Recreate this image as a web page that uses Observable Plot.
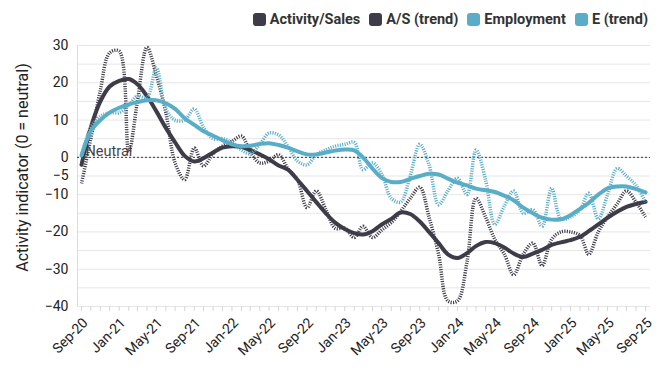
<!DOCTYPE html>
<html><head><meta charset="utf-8">
<script src="https://cdn.jsdelivr.net/npm/d3@7"></script>
<script src="https://cdn.jsdelivr.net/npm/@observablehq/plot@0.6"></script>
<style>
body{margin:0;background:#fff;font-family:Roboto,sans-serif;}
#legend{height:30px;box-sizing:border-box;padding-top:9px;padding-right:18px;display:flex;justify-content:flex-end;align-items:center;font-weight:700;font-size:14.5px;color:#333;}
.item{display:flex;align-items:center;margin-left:9px;}
.sw{width:13px;height:13px;border-radius:3px;margin-right:4px;}
</style></head><body>
<div id="legend"></div>
<div id="chart"></div>
<script>
// First month of the series: Sep 2020, monthly to Sep 2025
const startYear = 2020, startMonthIndex = 8;

const activity = [-7, 5, 18, 28, 28.5, 1.5, 15, 29.5, 22, 12,
  -1.5, -6, 2.5, -2.3, 1, 3, 4.3, 5.7, 1.5, -1.5,
  -1, 0.7, -3, -6, -13.5, -9, -14, -19, -19, -21.5,
  -18.5, -21.5, -19.5, -17.5, -14.5, -11, -8, -16, -26, -38.5,
  -38.5, -28, -11, -16, -22, -26, -31.5, -26, -23, -29,
  -22, -20, -20, -21, -26, -20, -16, -12.5, -9, -12, -16];

const activityTrend = [-2, 8, 15, 19, 20.5, 21, 19.6, 16.4, 12.4, 7.9,
  4, 0.4, -1.1, -0.2, 1.3, 2.6, 3, 2.8, 2, 0.8,
  -0.5, -2.2, -3.3, -6, -9, -12, -15, -17.5, -19.2, -20.3,
  -20.7, -19.8, -18, -16.5, -14.8, -15.2, -17.2, -20, -23, -26,
  -27, -25.7, -23.8, -22.7, -23, -24.2, -25.8, -26.7, -25.8, -24.8,
  -23.5, -22.8, -22.2, -21.3, -19.8, -18, -16.2, -14.6, -13.3, -12.5, -11.9];

const employment = [0.5, 8, 11, 12, 12, 14, 16.5, 16, 24, 13,
  10, 10, 13, 8, 5, 5, 4, 2, 1, 3.5,
  6.5, 6, 3, -1, -2, 0.7, 2, 3, 3.5, 4,
  -3.3, -1.5, -4.5, -11, -12, -5, 3.5, -2, -12.7, -9,
  -5.6, -10, 2, -6, -18, -13, -9, -15, -14, -18.5,
  -8.3, -16.5, -16, -14, -9.6, -16.5, -10, -3, -5, -7.5, -12];

const employmentTrend = [0.5, 7, 10, 12, 13.3, 14.2, 14.8, 15.3, 15.3, 14.5,
  13, 10.5, 8.7, 7, 5.8, 4.6, 3.5, 3, 3.1, 3.6,
  3.8, 3.3, 2.6, 1.6, 0.8, 0.8, 1.3, 1.8, 2.1, 1.9,
  0, -3, -5.5, -6.6, -6.6, -5.8, -5, -4.4, -4.6, -5.7,
  -6.8, -7.5, -8.4, -8.8, -9.3, -10.3, -11.5, -13.5, -15, -16.2,
  -16.7, -16.6, -15.5, -13.8, -12.2, -10, -8.3, -7.8, -7.8, -8.5, -9.4];

const seriesNames = ["Activity/Sales", "A/S (trend)", "Employment", "E (trend)"];
const seriesColors = ["#3d3c48", "#3d3c48", "#5aadc7", "#5aadc7"];
const yTickValues = [30, 20, 10, 0, -5, -10, -20, -30, -40];
const yGridValues = [30, 25, 20, 15, 10, 5, 0, -5, -10, -15, -20, -25, -30, -35, -40];
const neutralLabel = "Neutral";
const yLabel = "Activity indicator (0 = neutral)";

const months = activity.map((_, i) => new Date(Date.UTC(startYear, startMonthIndex + i, 1)));
const labelMonths = months.filter((_, i) => i % 4 === 0);
const rows = months.map((date, i) => ({
  date, activity: activity[i], activityTrend: activityTrend[i],
  employment: employment[i], employmentTrend: employmentTrend[i]
}));

// legend
const legend = document.getElementById("legend");
seriesNames.forEach((name, i) => {
  const it = document.createElement("div"); it.className = "item";
  const sw = document.createElement("div"); sw.className = "sw"; sw.style.background = seriesColors[i];
  const tx = document.createElement("span"); tx.textContent = name;
  it.appendChild(sw); it.appendChild(tx); legend.appendChild(it);
});

const x0 = new Date(Date.UTC(2020, 7, 19));
const x1 = new Date(Date.UTC(2025, 8, 17));
const dotted = {strokeWidth: 3.5, strokeDasharray: "1.1,1.3", strokeLinecap: "butt", curve: "catmull-rom"};

const chart = Plot.plot({
  width: 666, height: 345,
  marginTop: 15, marginBottom: 69, marginLeft: 77, marginRight: 16,
  style: {fontFamily: "Roboto, sans-serif", background: "#fff", overflow: "visible"},
  x: {type: "utc", domain: [x0, x1]},
  y: {domain: [-40, 30]},
  marks: [
    Plot.gridY(yGridValues, {stroke: "#e6e6e6", strokeOpacity: 1}),
    Plot.ruleX([x0], {stroke: "#dcdcdc"}),
    Plot.axisX(months, {tickSize: 5, tickFormat: () => "", stroke: "#d6d6d6", label: null}),
    Plot.axisX(labelMonths, {tickSize: 0, tickPadding: 14, dx: 4, tickRotate: -45, tickFormat: d3.utcFormat("%b-%y"), fontSize: 14, fill: "#222", label: null}),
    Plot.axisY(yTickValues, {tickSize: 0, tickPadding: 9, fontSize: 14, fill: "#222", label: null}),
    Plot.ruleY([0], {stroke: "#333", strokeDasharray: "2,2", strokeWidth: 1}),
    Plot.text([neutralLabel], {x: () => months[0], y: () => 0, textAnchor: "start", lineAnchor: "bottom", dx: 4, dy: -1, fontSize: 14.5, fill: "#444"}),
    Plot.text([yLabel], {frameAnchor: "left", textAnchor: "middle", lineAnchor: "middle", rotate: -90, dx: -55, dy: -8.5, fontSize: 16, fill: "#222"}),
    Plot.line(rows, {x: "date", y: "activity", stroke: seriesColors[0], ...dotted}),
    Plot.line(rows, {x: "date", y: "activityTrend", stroke: seriesColors[1], strokeWidth: 4, curve: "catmull-rom"}),
    Plot.line(rows, {x: "date", y: "employment", stroke: seriesColors[2], ...dotted}),
    Plot.line(rows, {x: "date", y: "employmentTrend", stroke: seriesColors[3], strokeWidth: 4, curve: "catmull-rom"})
  ]
});
document.getElementById("chart").appendChild(chart);
</script>
</body></html>
